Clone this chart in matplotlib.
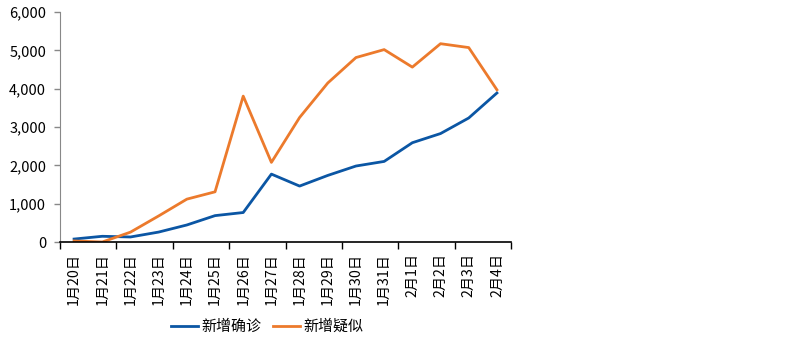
import matplotlib
matplotlib.use("Agg")
import matplotlib.pyplot as plt
from matplotlib.ticker import FuncFormatter, FixedLocator

plt.rcParams['font.family'] = ['Noto Sans CJK SC', 'DejaVu Sans']

dates = ["1月20日", "1月21日", "1月22日", "1月23日", "1月24日", "1月25日", "1月26日", "1月27日",
         "1月28日", "1月29日", "1月30日", "1月31日", "2月1日", "2月2日", "2月3日", "2月4日"]
confirmed = [77, 149, 131, 259, 444, 688, 769, 1771, 1459, 1737, 1982, 2102, 2590, 2829, 3235, 3887]
suspected = [27, 0, 257, 680, 1118, 1309, 3806, 2077, 3248, 4148, 4812, 5019, 4562, 5173, 5072, 3971]

blue = "#0B56A4"
orange = "#EC7A2C"

fig = plt.figure(figsize=(7.87, 3.5), dpi=100)
ax = fig.add_axes([60/787, 1-242/350, (511-60)/787, (242-12)/350])

x = list(range(len(dates)))
ax.plot(x, confirmed, color=blue, lw=2.0, label="新增确诊", solid_joinstyle='round')
ax.plot(x, suspected, color=orange, lw=2.0, label="新增疑似", solid_joinstyle='round')

ax.set_xlim(-0.5, len(dates) - 0.5)
ax.set_ylim(0, 6000)
ax.set_yticks(range(0, 6001, 1000))
ax.yaxis.set_major_formatter(FuncFormatter(lambda v, p: f"{int(v):,}"))

ax.set_xticks(x)
ax.set_xticklabels(dates, rotation=90, fontsize=10.2)
ax.tick_params(axis='x', which='major', length=0, pad=8)
ax.xaxis.set_minor_locator(FixedLocator([i - 0.5 for i in range(0, len(dates) + 1, 2)]))
ax.tick_params(axis='x', which='minor', length=5, width=1, color='black', direction='out')
ax.tick_params(axis='y', length=4, width=1, color='#888888', labelsize=10.5, pad=6)

for s in ['top', 'right']:
    ax.spines[s].set_visible(False)
ax.spines['left'].set_color('#888888')
ax.spines['bottom'].set_color('black')
ax.spines['bottom'].set_linewidth(1.2)

leg = fig.legend(loc='center', bbox_to_anchor=(267/787, 1-327/350), ncol=2, frameon=False,
                 fontsize=10.8, handlelength=1.8, handletextpad=0.2, columnspacing=0.8)

fig.savefig("out.png", dpi=100)
